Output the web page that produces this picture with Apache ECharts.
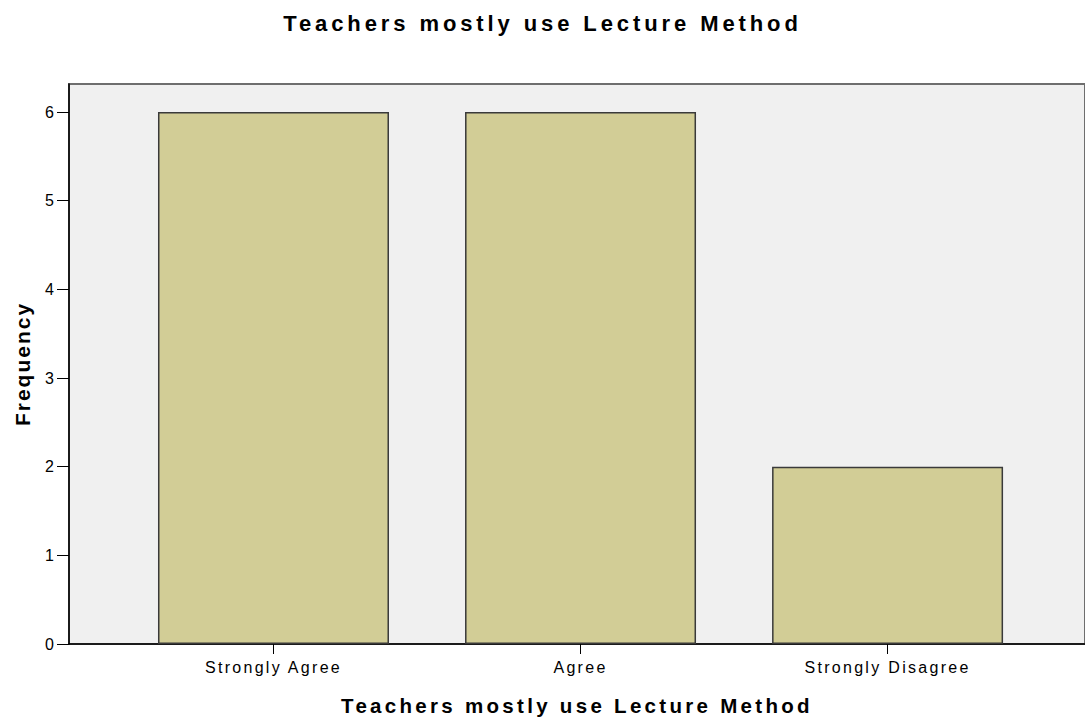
<!DOCTYPE html>
<html>
<head>
<meta charset="utf-8">
<script src="https://cdn.jsdelivr.net/npm/echarts@6/dist/echarts.min.js"></script>
<style>html,body{margin:0;padding:0;background:#fff}#c{width:1085px;height:721px}</style>
</head>
<body>
<div id="c"></div>
<script>
const categories = ['Strongly Agree', 'Agree', 'Strongly Disagree'];
const frequencies = [6, 6, 2];
const yTicks = [0, 1, 2, 3, 4, 5, 6];
const titleText = 'Teachers mostly use Lecture Method';
const xName = 'Teachers mostly use Lecture Method';
const yName = 'Frequency';

const chart = echarts.init(document.getElementById('c'), null, {renderer: 'svg'});
const font = '"Liberation Sans", Arial, sans-serif';
const catIdx = categories.map((c, i) => i);
chart.setOption({
  animation: false,
  backgroundColor: '#ffffff',
  title: {
    text: titleText, left: 'center', top: 7,
    textStyle: {fontFamily: font, fontSize: 22, fontWeight: 'bold', color: '#000'}
  },
  grid: {
    left: 69, right: -2, top: 84, bottom: 76, show: true,
    backgroundColor: '#f0f0f0', borderColor: '#6e6e6e', borderWidth: 2
  },
  xAxis: {
    type: 'value', min: -0.666, max: 2.643,
    name: xName, nameLocation: 'middle', nameGap: 51,
    nameTextStyle: {fontFamily: font, fontSize: 20.5, fontWeight: 'bold', color: '#000'},
    axisLine: {show: true, onZero: false, lineStyle: {color: '#000', width: 1.5}},
    axisTick: {show: true, customValues: catIdx, length: 10, lineStyle: {color: '#000'}},
    axisLabel: {
      customValues: catIdx, margin: 15,
      formatter: v => categories[Math.round(v)] || '',
      fontFamily: font, fontSize: 16, color: '#000'
    },
    splitLine: {show: false}
  },
  yAxis: {
    type: 'value', min: 0, max: 6.316,
    name: yName, nameLocation: 'middle', nameGap: 36,
    nameTextStyle: {fontFamily: font, fontSize: 21, fontWeight: 'bold', color: '#000'},
    axisLine: {show: true, onZero: false, lineStyle: {color: '#000', width: 1.5}},
    axisTick: {show: true, customValues: yTicks, length: 12, lineStyle: {color: '#000'}},
    axisLabel: {customValues: yTicks, margin: 15, fontFamily: font, fontSize: 16, color: '#000'},
    splitLine: {show: false}
  },
  series: [{
    type: 'bar',
    data: frequencies.map((v, i) => [i, v]),
    barWidth: 231,
    itemStyle: {color: '#d2cd96', borderColor: '#3a3a3a', borderWidth: 1.5}
  }]
});

// SPSS-style wide letter tracking
function track() {
  const texts = Array.from(document.querySelectorAll('#c svg text'));
  texts.forEach(t => {
    const s = t.textContent;
    const top = t.getBoundingClientRect().top;
    let ls = null;
    if (s === titleText && top < 60) ls = 3.9;
    else if (s === xName && top > 600) ls = 3.3;
    else if (s === yName) ls = 2.0;
    else if (categories.includes(s)) ls = 2.3;
    if (ls !== null) t.style.letterSpacing = ls + 'px';
  });
}
track();
chart.on('finished', track);
</script>
</body>
</html>
